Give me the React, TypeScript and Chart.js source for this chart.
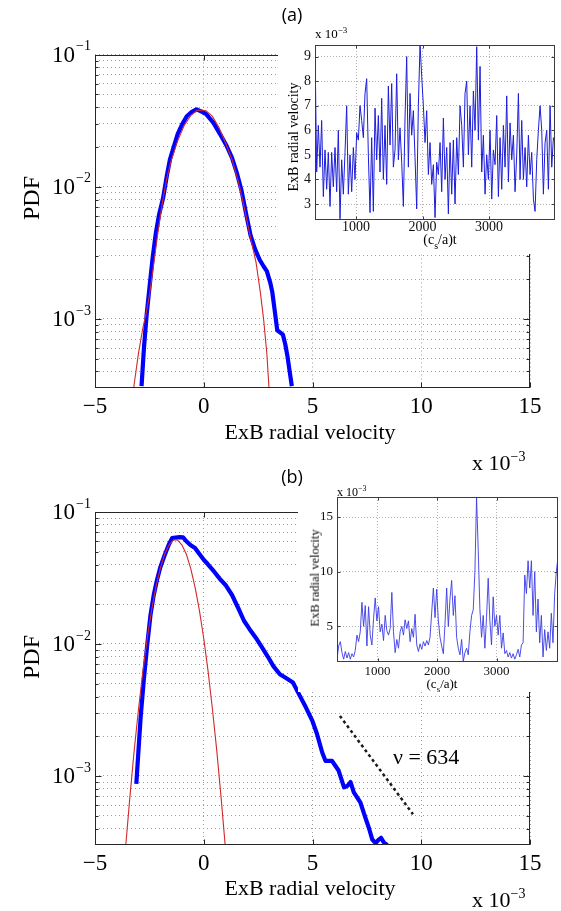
import React, { useEffect, useRef } from 'react';
import { Chart, registerables } from 'chart.js';

Chart.register(...registerables);

const SERIF = '"Liberation Serif", "Times New Roman", serif';
const SANS = '"Open Sans", "Liberation Sans", sans-serif';

// ---------- Panel (a): PDF of ExB radial velocity (x in units of 1e-3) ----------
const PDF_A_X = [-2.86, -2.75, -2.62, -2.5, -2.35, -2.2, -2.05, -1.87, -1.7, -1.55, -1.4, -1.2, -1.0, -0.78, -0.55, -0.33, -0.1, 0.1, 0.44, 0.75, 1.05, 1.3, 1.51, 1.74, 1.95, 2.15, 2.35, 2.57, 2.75, 2.9, 3.05, 3.15, 3.25, 3.38, 3.55, 3.64, 3.75, 3.85, 3.95, 4.05];
const PDF_A_Y = [0.00031, 0.0006, 0.0011, 0.0017, 0.0029, 0.0045, 0.0062, 0.0082, 0.012, 0.0162, 0.0195, 0.025, 0.0295, 0.0341, 0.0368, 0.0385, 0.037, 0.0355, 0.0305, 0.025, 0.0204, 0.0165, 0.0129, 0.0093, 0.0062, 0.0043, 0.0034, 0.0028, 0.0025, 0.0023, 0.0019, 0.0016, 0.0012, 0.00082, 0.00078, 0.00076, 0.00064, 0.00052, 0.0004, 0.00031];
const FIT_A_X = [-3.3, -3.2, -3.0, -2.8, -2.65, -2.5, -2.3, -2.1, -1.9, -1.7, -1.5, -1.2, -0.9, -0.6, -0.3, -0.1, 0.1, 0.4, 0.7, 1.0, 1.3, 1.6, 1.9, 2.1, 2.4, 2.6, 2.75, 2.9, 3.0, 3.1];
const FIT_A_Y = [0.00022, 0.00032, 0.00055, 0.00085, 0.0011, 0.0015, 0.0026, 0.0046, 0.0076, 0.0115, 0.0157, 0.0222, 0.029, 0.0345, 0.0378, 0.038, 0.0375, 0.034, 0.028, 0.0215, 0.016, 0.0108, 0.0065, 0.0045, 0.0027, 0.0016, 0.001, 0.00055, 0.0003, 0.0002];

// ---------- Panel (b) ----------
const PDF_B_X = [-3.1, -3.02, -2.9, -2.75, -2.6, -2.45, -2.3, -2.15, -2.0, -1.8, -1.6, -1.45, -1.3, -1.1, -0.95, -0.8, -0.6, -0.4, -0.2, 0.0, 0.2, 0.5, 0.75, 1.0, 1.3, 1.6, 1.85, 2.1, 2.45, 2.7, 2.95, 3.2, 3.5, 3.8, 4.1, 4.4, 4.7, 5.0, 5.2, 5.45, 5.6, 5.9, 6.2, 6.45, 6.6, 6.75, 6.9, 7.2, 7.4, 7.6, 7.75, 7.9, 8.05, 8.15, 8.3, 8.45];
const PDF_B_Y = [0.00087, 0.0014, 0.0028, 0.0055, 0.0098, 0.0165, 0.0235, 0.0305, 0.038, 0.047, 0.057, 0.0635, 0.064, 0.0645, 0.0643, 0.06, 0.056, 0.0533, 0.048, 0.0435, 0.04, 0.035, 0.031, 0.028, 0.0235, 0.0185, 0.015, 0.013, 0.0108, 0.0093, 0.008, 0.0068, 0.0059, 0.0055, 0.0051, 0.0041, 0.0033, 0.0026, 0.0021, 0.0015, 0.0013, 0.0013, 0.0011, 0.00082, 0.00084, 0.0009, 0.00075, 0.00063, 0.0005, 0.0004, 0.00033, 0.00031, 0.00033, 0.00034, 0.00031, 0.0003];
const FIT_B_X = [-3.6, -3.4, -3.2, -3.0, -2.8, -2.6, -2.4, -2.2, -2.0, -1.8, -1.6, -1.4, -1.3, -1.2, -1.0, -0.8, -0.6, -0.4, -0.2, 0.0, 0.2, 0.4, 0.6, 0.8, 1.0];
const FIT_B_Y = [0.00028, 0.00068, 0.00155, 0.0032, 0.0062, 0.011, 0.018, 0.027, 0.0374, 0.0478, 0.0562, 0.0611, 0.0616, 0.0611, 0.0562, 0.0478, 0.0374, 0.027, 0.018, 0.011, 0.0062, 0.0032, 0.00155, 0.00068, 0.00028];
const SLOPE_B_X = [6.26, 9.62];
const SLOPE_B_Y = [0.00285, 0.000513];
const NU_LABEL = 'ν = 634';
const NU_AT = { x: 8.7, y: 0.00136 };

// main axes
const MAIN_X_MIN = -5;
const MAIN_X_MAX = 15;
const MAIN_X_TICKS = [-5, 0, 5, 10, 15];
const MAIN_X_LABELS = ['−5', '0', '5', '10', '15'];
const MAIN_Y_MIN = 0.000316;
const MAIN_Y_MAX = 0.1;
const MAIN_Y_DECADES = [-3, -2, -1];

// ---------- Insets: time series of ExB radial velocity (units of 1e-3) ----------
const TS_A_T0 = 383;
const TS_A_DT = 25.07;
const TS_A = [9.4, 4.3, 6.2, 4.5, 6.4, 3.3, 5.2, 3.6, 5.1, 2.9, 5.1, 3.7, 5.3, 3.5, 6.0, 2.4, 4.8, 3.4, 5.1, 7.0, 3.4, 5.0, 3.5, 5.3, 4.0, 5.9, 5.6, 7.0, 6.4, 5.7, 7.5, 8.1, 5.0, 2.65, 5.7, 2.7, 6.9, 4.8, 6.6, 4.3, 7.3, 4.0, 6.2, 3.8, 7.8, 5.4, 7.9, 4.5, 5.2, 8.3, 4.8, 6.1, 4.7, 2.9, 6.5, 9.0, 4.5, 7.5, 5.8, 6.8, 4.9, 2.8, 7.0, 9.5, 8.2, 7.0, 5.5, 6.8, 4.2, 5.5, 3.8, 4.6, 2.45, 4.7, 4.2, 5.5, 3.5, 6.5, 4.0, 5.3, 2.6, 5.5, 3.4, 5.6, 3.0, 5.7, 4.2, 7.0, 6.2, 4.5, 7.5, 8.0, 5.0, 7.0, 4.5, 7.6, 6.0, 9.4, 5.6, 8.6, 4.3, 5.8, 3.4, 5.0, 4.0, 6.0, 3.2, 5.2, 4.6, 6.6, 3.3, 5.7, 3.6, 6.2, 4.5, 7.4, 3.9, 6.3, 4.8, 5.8, 3.5, 5.0, 7.5, 4.0, 6.4, 4.0, 5.3, 3.7, 5.8, 4.2, 5.1, 3.2, 2.7, 4.8, 6.0, 7.0, 6.0, 3.4, 5.5, 6.0, 3.6, 7.0, 4.5, 5.7, 5.5];
const TS_A_X_RANGE = [383, 3992];
const TS_A_Y_RANGE = [2.35, 9.47];
const TS_A_X_TICKS = [1000, 2000, 3000];
const TS_A_Y_TICKS = [3, 4, 5, 6, 7, 8, 9];

const TS_B_T0 = 318;
const TS_B_DT = 27.93;
const TS_B = [2.0, 3.2, 3.6, 2.6, 2.0, 2.7, 2.1, 2.6, 2.0, 2.5, 2.2, 2.8, 4.2, 3.6, 4.5, 7.2, 5.0, 6.9, 3.2, 6.8, 4.2, 3.3, 5.7, 7.6, 5.5, 6.8, 4.5, 5.2, 3.7, 6.0, 4.6, 4.2, 4.8, 8.1, 4.5, 2.6, 3.8, 3.0, 4.5, 5.0, 4.2, 5.6, 4.8, 5.5, 3.6, 4.8, 4.0, 6.1, 3.3, 2.7, 3.4, 2.9, 3.6, 3.2, 3.7, 3.3, 4.0, 6.3, 8.5, 5.8, 8.4, 5.5, 4.0, 3.2, 2.5, 5.2, 8.5, 5.0, 7.5, 9.2, 6.0, 7.8, 4.0, 3.0, 2.4, 3.8, 1.8, 2.6, 3.0, 2.4, 4.5, 6.0, 6.5, 10.0, 16.8, 12.0, 6.6, 4.0, 6.0, 3.0, 5.8, 9.4, 5.5, 3.3, 7.7, 5.0, 6.0, 4.2, 6.0, 3.0, 4.4, 2.5, 2.8, 2.2, 2.6, 2.1, 2.5, 2.0, 2.4, 2.9, 2.2, 3.3, 3.5, 9.7, 8.0, 11.0, 8.5, 11.0, 6.0, 10.0, 4.5, 7.5, 3.5, 6.0, 2.2, 4.7, 2.8, 4.5, 3.0, 6.2, 3.5, 8.0, 10.0, 11.3];
const TS_B_X_RANGE = [318, 4033];
const TS_B_Y_RANGE = [1.74, 16.83];
const TS_B_X_TICKS = [1000, 2000, 3000];
const TS_B_Y_TICKS = [5, 10, 15];

const BLUE = '#0000ff';
const RED = '#d02a2a';

type Pt = { x: number; y: number };
const zip = (xs: number[], ys: number[]): Pt[] => xs.map((x, i) => ({ x, y: ys[i] }));
const sampled = (t0: number, dt: number, vs: number[]): Pt[] => vs.map((v, i) => ({ x: t0 + i * dt, y: v }));

function logGridTicks(min: number, max: number) {
  const out: { value: number; major: boolean }[] = [];
  for (let e = Math.floor(Math.log10(min)); e <= Math.ceil(Math.log10(max)); e++) {
    for (let m = 1; m <= 9; m++) {
      const v = m * Math.pow(10, e);
      if (v >= min * 1.0001 && v <= max * 1.0001) out.push({ value: v, major: m === 1 });
    }
  }
  return out;
}

function mainDecor(note?: { text: string; x: number; y: number }) {
  return {
    id: 'mainDecor',
    afterDraw(chart: any) {
      const { ctx, chartArea: a } = chart;
      const xs = chart.scales.x;
      const ys = chart.scales.y;
      const L = Math.round(a.left) + 0.5;
      const R = Math.round(a.right) - 0.5;
      const T = Math.round(a.top) + 0.5;
      const B = Math.round(a.bottom) - 0.5;
      ctx.save();
      ctx.setLineDash([]);
      ctx.strokeStyle = '#262626';
      ctx.lineWidth = 1;
      ctx.strokeRect(L, T, R - L, B - T);
      ctx.beginPath();
      MAIN_X_TICKS.forEach((v) => {
        const p = Math.round(xs.getPixelForValue(v)) + 0.5;
        ctx.moveTo(p, B); ctx.lineTo(p, B - 5);
        ctx.moveTo(p, T); ctx.lineTo(p, T + 5);
      });
      ys.ticks.forEach((t: any) => {
        const p = Math.round(ys.getPixelForValue(t.value)) + 0.5;
        const len = t.major ? 6 : 3;
        ctx.moveTo(L, p); ctx.lineTo(L + len, p);
        ctx.moveTo(R, p); ctx.lineTo(R - len, p);
      });
      ctx.stroke();

      ctx.fillStyle = '#000';
      ctx.textBaseline = 'middle';
      ctx.textAlign = 'center';
      ctx.font = `23px ${SERIF}`;
      MAIN_X_TICKS.forEach((v, i) => {
        ctx.fillText(MAIN_X_LABELS[i], xs.getPixelForValue(v), a.bottom + 19);
      });
      MAIN_Y_DECADES.forEach((d) => {
        const p = ys.getPixelForValue(Math.pow(10, d));
        ctx.textAlign = 'right';
        ctx.font = `23px ${SERIF}`;
        ctx.fillText('10', a.left - 20, p + 1);
        ctx.textAlign = 'left';
        ctx.font = `14px ${SERIF}`;
        ctx.fillText('−' + String(-d), a.left - 19, p - 8);
      });
      if (note) {
        ctx.textAlign = 'left';
        ctx.font = `22px ${SERIF}`;
        ctx.fillText(note.text, xs.getPixelForValue(note.x), ys.getPixelForValue(note.y));
      }
      ctx.restore();
    },
  };
}

function insetDecor(xTicks: number[], yTicks: number[]) {
  return {
    id: 'insetDecor',
    afterDraw(chart: any) {
      const { ctx, chartArea: a } = chart;
      const xs = chart.scales.x;
      const ys = chart.scales.y;
      const L = Math.round(a.left) + 0.5;
      const R = Math.round(a.right) - 0.5;
      const T = Math.round(a.top) + 0.5;
      const B = Math.round(a.bottom) - 0.5;
      ctx.save();
      ctx.setLineDash([]);
      ctx.strokeStyle = '#3c3c3c';
      ctx.lineWidth = 1;
      ctx.strokeRect(L, T, R - L, B - T);
      ctx.beginPath();
      xTicks.forEach((v) => {
        const p = Math.round(xs.getPixelForValue(v)) + 0.5;
        ctx.moveTo(p, B); ctx.lineTo(p, B - 3);
        ctx.moveTo(p, T); ctx.lineTo(p, T + 3);
      });
      yTicks.forEach((v) => {
        const p = Math.round(ys.getPixelForValue(v)) + 0.5;
        ctx.moveTo(L, p); ctx.lineTo(L + 3, p);
        ctx.moveTo(R, p); ctx.lineTo(R - 3, p);
      });
      ctx.stroke();
      ctx.restore();
    },
  };
}

function mainConfig(blue: Pt[], red: Pt[], extra: any[], padTop: number, xAxisH: number, note?: any) {
  const yTicks = logGridTicks(MAIN_Y_MIN, MAIN_Y_MAX);
  return {
    type: 'line',
    data: {
      datasets: [
        { data: red, borderColor: RED, borderWidth: 1.1, pointRadius: 0, tension: 0, clip: 0, fill: false },
        { data: blue, borderColor: BLUE, borderWidth: 4.2, pointRadius: 0, tension: 0, clip: 0, fill: false, borderJoinStyle: 'round' },
        ...extra,
      ],
    },
    options: {
      responsive: false,
      animation: false,
      devicePixelRatio: 1,
      events: [],
      layout: { padding: { left: 0, top: padTop, right: 31, bottom: 0 } },
      plugins: { legend: { display: false }, tooltip: { enabled: false } },
      scales: {
        x: {
          type: 'linear',
          min: MAIN_X_MIN,
          max: MAIN_X_MAX,
          afterBuildTicks: (s: any) => { s.ticks = MAIN_X_TICKS.map((v) => ({ value: v })); },
          afterFit: (s: any) => { s.height = xAxisH; },
          ticks: { display: false },
          grid: { color: '#9c9c9c', lineWidth: 1, drawTicks: false },
          border: { display: false, dash: [1, 3] },
        },
        y: {
          type: 'logarithmic',
          min: MAIN_Y_MIN,
          max: MAIN_Y_MAX,
          afterBuildTicks: (s: any) => { s.ticks = yTicks.map((t) => ({ ...t })); },
          afterFit: (s: any) => { s.width = 95; },
          ticks: { display: false },
          grid: { color: '#9c9c9c', lineWidth: 1, drawTicks: false },
          border: { display: false, dash: [1, 3] },
        },
      },
    },
    plugins: [mainDecor(note)],
  };
}

function insetConfig(pts: Pt[], color: string, width: number, xr: number[], yr: number[], xTicks: number[], yTicks: number[], lay: any) {
  const font = { family: SERIF, size: lay.font, lineHeight: 1 };
  return {
    type: 'line',
    data: { datasets: [{ data: pts, borderColor: color, borderWidth: width, pointRadius: 0, tension: 0, clip: 0, fill: false }] },
    options: {
      responsive: false,
      animation: false,
      devicePixelRatio: 1,
      events: [],
      layout: { padding: { left: 0, top: lay.top, right: lay.right, bottom: 0 } },
      plugins: { legend: { display: false }, tooltip: { enabled: false } },
      scales: {
        x: {
          type: 'linear',
          min: xr[0],
          max: xr[1],
          afterBuildTicks: (s: any) => { s.ticks = xTicks.map((v) => ({ value: v })); },
          afterFit: (s: any) => { s.height = lay.xh; },
          ticks: { display: true, padding: lay.xpad, color: '#111', font, autoSkip: false, maxRotation: 0, callback: (v: any) => String(v) },
          grid: { color: '#b0b0b0', lineWidth: 1, drawTicks: false },
          border: { display: false, dash: [1, 2] },
        },
        y: {
          type: 'linear',
          min: yr[0],
          max: yr[1],
          afterBuildTicks: (s: any) => { s.ticks = yTicks.map((v) => ({ value: v })); },
          afterFit: (s: any) => { s.width = lay.yw; },
          ticks: { display: true, padding: 4, color: '#111', font, autoSkip: false, callback: (v: any) => String(v) },
          grid: { color: '#b0b0b0', lineWidth: 1, drawTicks: false },
          border: { display: false, dash: [1, 2] },
        },
      },
    },
    plugins: [insetDecor(xTicks, yTicks)],
  };
}

function ChartCanvas(props: { left: number; top: number; width: number; height: number; make: () => any; bg?: string }) {
  const ref = useRef<HTMLCanvasElement | null>(null);
  useEffect(() => {
    if (!ref.current) return;
    const chart = new Chart(ref.current, props.make());
    return () => chart.destroy();
  }, []);
  return (
    <canvas
      ref={ref}
      width={props.width}
      height={props.height}
      style={{ position: 'absolute', left: props.left, top: props.top, width: props.width, height: props.height, background: props.bg || 'transparent' }}
    />
  );
}

function Label(props: { x: number; y: number; size: number; family?: string; anchor?: 'center' | 'left'; rotate?: boolean; children: any }) {
  const anchor = props.anchor || 'center';
  const tf = anchor === 'center'
    ? `translate(-50%, -50%)${props.rotate ? ' rotate(-90deg)' : ''}`
    : 'translateY(-50%)';
  return (
    <div
      style={{
        position: 'absolute',
        left: props.x,
        top: props.y,
        transform: tf,
        fontFamily: props.family || SERIF,
        fontSize: props.size,
        lineHeight: 1,
        whiteSpace: 'nowrap',
        color: '#000',
      }}
    >
      {props.children}
    </div>
  );
}

const Sup = (p: { size: number; rise: number; children: any }) => (
  <span style={{ fontSize: p.size, position: 'relative', top: -p.rise }}>{p.children}</span>
);
const Sub = (p: { size: number; drop: number; children: any }) => (
  <span style={{ fontSize: p.size, position: 'relative', top: p.drop }}>{p.children}</span>
);

export default function App() {
  const mainA = () => mainConfig(zip(PDF_A_X, PDF_A_Y), zip(FIT_A_X, FIT_A_Y), [], 54.5, 456 - 388);
  const mainB = () => mainConfig(
    zip(PDF_B_X, PDF_B_Y),
    zip(FIT_B_X, FIT_B_Y),
    [{ data: zip(SLOPE_B_X, SLOPE_B_Y), borderColor: '#1a1a1a', borderWidth: 2.5, borderDash: [3, 3], pointRadius: 0, tension: 0, clip: 0, fill: false }],
    54,
    911 - 458 - (845 - 458),
    { text: NU_LABEL, x: NU_AT.x, y: NU_AT.y }
  );
  const insetA = () => insetConfig(
    sampled(TS_A_T0, TS_A_DT, TS_A), '#1c1cdc', 1, TS_A_X_RANGE, TS_A_Y_RANGE, TS_A_X_TICKS, TS_A_Y_TICKS,
    { top: 20, right: 6, yw: 37, xh: 34, xpad: 0, font: 14 }
  );
  const insetB = () => insetConfig(
    sampled(TS_B_T0, TS_B_DT, TS_B), '#3a3ae6', 0.9, TS_B_X_RANGE, TS_B_Y_RANGE, TS_B_X_TICKS, TS_B_Y_TICKS,
    { top: 19, right: 3, yw: 39, xh: 30, xpad: 3, font: 13 }
  );

  return (
    <div style={{ position: 'absolute', left: 0, top: 0, width: 561, height: 911, background: '#fff', overflow: 'hidden' }}>
      <ChartCanvas left={0} top={0} width={561} height={456} make={mainA} />
      <ChartCanvas left={0} top={458} width={561} height={453} make={mainB} />
      <ChartCanvas left={278} top={25} width={283} height={229} make={insetA} bg="#fff" />
      <ChartCanvas left={298} top={478} width={263} height={214} make={insetB} bg="#fff" />

      <Label x={292} y={14} size={18} family={SANS}>(a)</Label>
      <Label x={292} y={476} size={18} family={SANS}>(b)</Label>

      <Label x={31} y={198} size={24} rotate>PDF</Label>
      <Label x={31} y={657} size={24} rotate>PDF</Label>

      <Label x={310} y={432} size={22}>ExB radial velocity</Label>
      <Label x={310} y={888} size={22}>ExB radial velocity</Label>

      <Label x={472} y={463} size={22} anchor="left">x 10<Sup size={14} rise={9}>−3</Sup></Label>
      <Label x={472} y={900} size={22} anchor="left">x 10<Sup size={14} rise={9}>−3</Sup></Label>

      <Label x={315} y={33} size={13} anchor="left">x 10<Sup size={9} rise={5}>−3</Sup></Label>
      <Label x={440} y={240} size={14}>(c<Sub size={10} drop={5}>s</Sub>/a)t</Label>
      <Label x={294} y={137} size={14} rotate>ExB radial velocity</Label>

      <Label x={337} y={492} size={12} anchor="left">x 10<Sup size={8} rise={5}>−3</Sup></Label>
      <Label x={442} y={683} size={13}>(c<Sub size={9} drop={4}>s</Sub>/a)t</Label>
      <Label x={315} y={578} size={12.5} rotate>ExB radial velocity</Label>
    </div>
  );
}
